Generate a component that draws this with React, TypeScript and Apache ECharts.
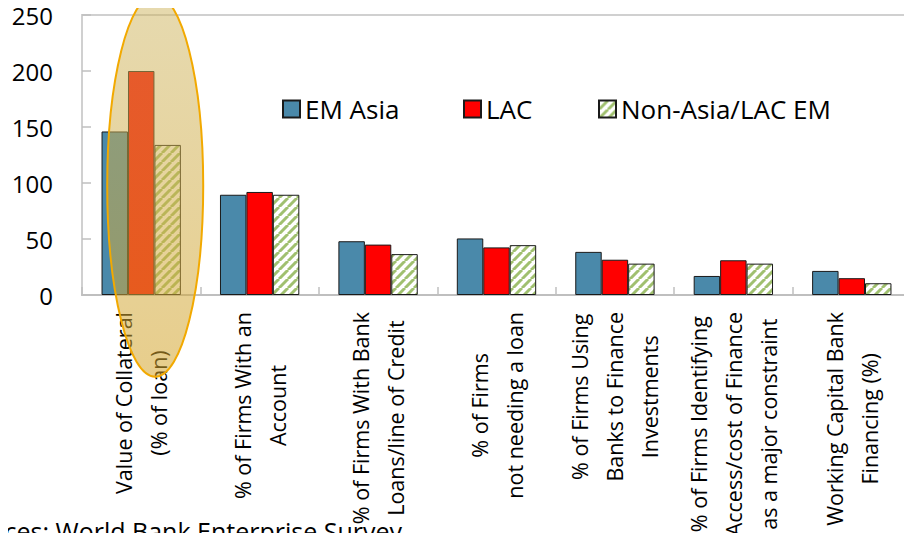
import React, { useEffect, useRef } from "react";
import * as echarts from "echarts";

const categories = [
  "Value of Collateral\n(% of loan)",
  "% of Firms With an\nAccount",
  "% of Firms With Bank\nLoans/line of Credit",
  "% of Firms\nnot needing a loan",
  "% of Firms Using\nBanks to Finance\nInvestments",
  "% of Firms Identifying\nAccess/cost of Finance\nas a major constraint",
  "Working Capital Bank\nFinancing (%)",
];
const seriesNames = ["EM Asia", "LAC", "Non-Asia/LAC EM"];
const emAsia = [146, 89.5, 48, 50.5, 38.5, 17, 21.5];
const lac = [200, 92, 45, 42.5, 31.5, 31, 15];
const nonAsiaLac = [134, 89.5, 36.5, 44.5, 28, 28, 10.5];
const yTicks = { min: 0, max: 250, interval: 50 };
const sourceText = "Sources: World Bank Enterprise Survey";
const highlightCenterValue = 97.5;

function makeHatch() {
  const size = 9;
  const c = document.createElement("canvas");
  c.width = size;
  c.height = size;
  const ctx = c.getContext("2d")!;
  ctx.fillStyle = "#ffffff";
  ctx.fillRect(0, 0, size, size);
  ctx.strokeStyle = "rgba(150,185,95,0.9)";
  ctx.lineWidth = 3;
  for (const off of [-size, 0, size]) {
    ctx.beginPath();
    ctx.moveTo(off, size);
    ctx.lineTo(off + size, 0);
    ctx.stroke();
  }
  return { image: c, repeat: "repeat", imageWidth: size, imageHeight: size } as any;
}

export default function App() {
  const ref = useRef<HTMLDivElement>(null);
  useEffect(() => {
    if (!ref.current) return;
    const chart = echarts.init(ref.current, undefined, { renderer: "svg" });
    const hatch = makeHatch();
    const border = { borderColor: "#1a1a1a", borderWidth: 1 };
    const legendText = { fontFamily: "Open Sans", fontSize: 26, color: "#000" };
    const legendCommon = {
      top: 96,
      padding: 0,
      itemWidth: 17,
      itemHeight: 17,
      itemGap: 0,
      textStyle: legendText,
      icon: "rect",
    };
    chart.setOption({
      animation: false,
      backgroundColor: "#ffffff",
      legend: [
        { ...legendCommon, left: 282, data: [seriesNames[0]] },
        { ...legendCommon, left: 463, data: [seriesNames[1]] },
        { ...legendCommon, left: 598, data: [seriesNames[2]] },
      ],
      grid: {
        left: 82,
        right: 1,
        top: 15,
        bottom: 246,
        show: true,
        borderColor: "#d0d0d0",
        borderWidth: 2,
        backgroundColor: "transparent",
      },
      xAxis: {
        type: "category",
        data: categories,
        axisLine: { lineStyle: { color: "#bfbfbf", width: 2 } },
        axisTick: { show: true, inside: true, length: 8, lineStyle: { color: "#bfbfbf", width: 1.5 } },
        axisLabel: {
          interval: 0,
          rotate: 90,
          align: "right",
          verticalAlign: "middle",
          margin: 17,
          hideOverlap: false,
          formatter: (v: string) => v.split("\n").map((l) => `{c|${l}}`).join("\n"),
          rich: {
            c: {
              fontFamily: "Open Sans",
              fontSize: 21.5,
              lineHeight: 35,
              align: "center",
              color: "#000",
            },
          },
        },
        splitLine: { show: false },
      },
      yAxis: {
        type: "value",
        min: yTicks.min,
        max: yTicks.max,
        interval: yTicks.interval,
        axisLine: { show: true, lineStyle: { color: "#d0d0d0", width: 1.5 } },
        axisTick: { show: true, inside: true, length: 9, lineStyle: { color: "#bfbfbf", width: 1.5 } },
        axisLabel: { fontFamily: "Open Sans", fontSize: 24, color: "#000", margin: 29 },
        splitLine: { show: false },
      },
      series: [
        {
          name: seriesNames[0],
          type: "bar",
          data: emAsia,
          barGap: "0%",
          barCategoryGap: "33%",
          itemStyle: { color: "#4A89AA", ...border },
        },
        {
          name: seriesNames[1],
          type: "bar",
          data: lac,
          barGap: "0%",
          barCategoryGap: "33%",
          itemStyle: { color: "#FF0000", ...border },
        },
        {
          name: seriesNames[2],
          type: "bar",
          data: nonAsiaLac,
          barGap: "0%",
          barCategoryGap: "33%",
          itemStyle: { color: hatch, ...border },
        },
      ],
    });
    const [px, py] = chart.convertToPixel({ xAxisIndex: 0, yAxisIndex: 0 }, [0, highlightCenterValue]) as number[];
    chart.setOption({
      graphic: [
        {
          type: "ellipse",
          z: 100,
          shape: { cx: px + 14, cy: py, rx: 48, ry: 191 },
          style: {
            fill: new echarts.graphic.LinearGradient(0, 0, 0, 1, [
              { offset: 0, color: "rgba(205,180,95,0.5)" },
              { offset: 1, color: "rgba(212,165,45,0.55)" },
            ]),
            stroke: "#F2A900",
            lineWidth: 2,
          },
        },
        {
          type: "text",
          z: 100,
          x: 402,
          y: 518,
          style: {
            text: sourceText,
            fontFamily: "Open Sans",
            fontSize: 25,
            fill: "#000",
            textAlign: "right",
            textVerticalAlign: "top",
          },
        },
      ],
    });
    return () => chart.dispose();
  }, []);
  return <div ref={ref} style={{ width: 912, height: 541, margin: -8 }} />;
}
